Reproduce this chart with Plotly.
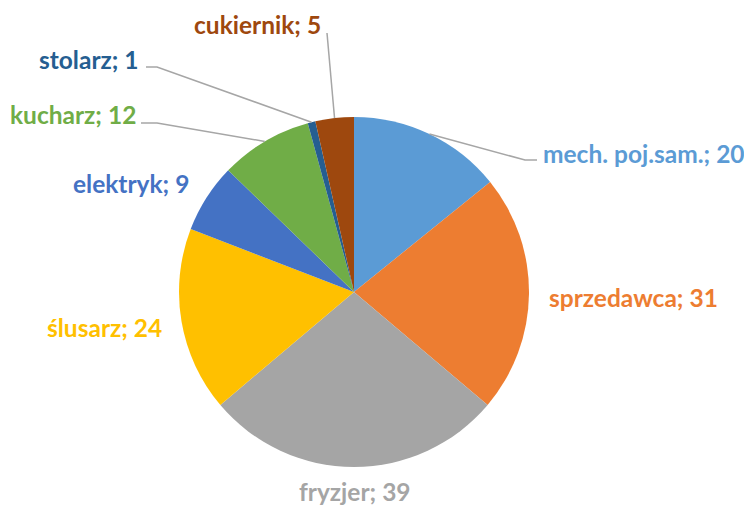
import math
import plotly.graph_objects as go

# data (clockwise from 12 o'clock)
labels = ["mech. poj.sam.", "sprzedawca", "fryzjer", "ślusarz",
          "elektryk", "kucharz", "stolarz", "cukiernik"]
values = [20, 31, 39, 24, 9, 12, 1, 5]
colours = ["#5B9BD5", "#ED7D31", "#A5A5A5", "#FFC000",
           "#4472C4", "#70AD47", "#255E91", "#9E480E"]

W, H = 752, 507
OFF = 8  # page body margin, so screen px -> figure px
cx, cy, r = 354, 292, 175  # pie centre / radius in screen px

# label anchor (screen px) and side, plus leader line bend points (None = no line)
label_pos = {
    "mech. poj.sam.": (541, 153, "left", [(525, 160), (537, 160)]),
    "sprzedawca": (547, 297, "left", None),
    "fryzjer": (355, 491, "center", None),
    "ślusarz": (164, 327, "right", None),
    "elektryk": (191, 183, "right", None),
    "kucharz": (138, 115, "right", [(157, 123), (141, 123)]),
    "stolarz": (141, 60, "right", [(157, 67), (146, 67)]),
    "cukiernik": (323, 24, "right", [(327, 33)]),
}


def px(x, y):
    return (x - OFF) / W, 1 - (y - OFF) / H


fig = go.Figure(
    data=go.Pie(
        labels=labels,
        values=values,
        sort=False,
        direction="clockwise",
        rotation=0,
        marker={"colors": colours, "line": {"width": 0}},
        textinfo="none",
        hoverinfo="label+value",
        showlegend=False,
        domain={"x": [px(cx - r, 0)[0], px(cx + r, 0)[0]],
                "y": [px(0, cy + r)[1], px(0, cy - r)[1]]},
    ),
    layout={
        "width": W,
        "height": H,
        "margin": {"l": 0, "r": 0, "t": 0, "b": 0},
        "paper_bgcolor": "white",
        "plot_bgcolor": "white",
    },
)

total = sum(values)
cum = 0
for lab, val, col in zip(labels, values, colours):
    mid = (cum + val / 2) / total * 2 * math.pi
    cum += val
    x, y, anchor, bends = label_pos[lab]
    fig.add_annotation(
        x=px(x, y)[0], y=px(x, y)[1], xref="paper", yref="paper",
        text=f"<b>{lab}; {val}</b>", showarrow=False,
        xanchor=anchor, yanchor="middle",
        font={"family": "Lato", "size": 24.5, "color": col},
    )
    if bends:
        # leader line starts at the slice's mid-angle on the rim
        pts = [(cx + r * math.sin(mid), cy - r * math.cos(mid))] + bends
        path = "M " + " L ".join(f"{px(a, b)[0]},{px(a, b)[1]}" for a, b in pts)
        fig.add_shape(type="path", path=path, xref="paper", yref="paper",
                      line={"color": "#A6A6A6", "width": 1.5})

fig.write_html("out.html")
